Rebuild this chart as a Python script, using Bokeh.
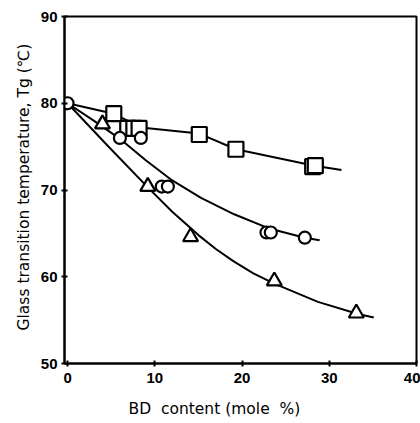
from bokeh.plotting import figure
from bokeh.models import Range1d, FixedTicker, Title
from bokeh.embed import file_html
from bokeh.resources import INLINE

# Data (BD content, mole %; Tg, degC)
sq_x = [5.3, 6.9, 7.6, 8.2, 15.1, 19.3, 28.1, 28.4]
sq_y = [78.8, 77.1, 77.1, 77.1, 76.4, 74.7, 72.7, 72.8]

ci_x = [0.0, 6.0, 8.4, 10.8, 11.5, 22.8, 23.3, 27.2]
ci_y = [80.0, 76.0, 76.0, 70.4, 70.4, 65.1, 65.1, 64.5]

tr_x = [4.0, 9.2, 14.1, 23.7, 33.1]
tr_y = [77.6, 70.4, 64.6, 59.5, 55.8]

# Fitted curves
sq_curve_x = [0.0, 5.3, 8.4, 15.1, 19.3, 28.3, 31.4]
sq_curve_y = [80.0, 78.8, 77.2, 76.5, 74.7, 72.8, 72.3]

ci_curve_x = [0.0, 3.0, 6.0, 9.0, 12.0, 15.3, 19.1, 23.0, 27.2, 28.9]
ci_curve_y = [80.0, 78.0, 75.9, 73.4, 71.1, 69.1, 67.2, 65.6, 64.5, 64.2]

tr_curve_x = [0.0, 4.6, 9.2, 12.0, 15.0, 17.0, 19.0, 21.3, 23.7, 28.7, 33.3, 35.1]
tr_curve_y = [80.0, 75.1, 70.3, 67.5, 64.8, 63.2, 61.8, 60.4, 59.2, 57.1, 55.7, 55.3]

x_ticks = [0, 10, 20, 30, 40]
y_ticks = [50, 60, 70, 80, 90]

x_title = "BD\u00a0 content (mole\u00a0 %)"
y_title = "Glass transition temperature, Tg (\u2103)"

p = figure(width=420, height=423, output_backend="svg", toolbar_location=None,
           x_range=Range1d(-0.35, 40.0), y_range=Range1d(50, 90),
           min_border_left=64, min_border_right=4, min_border_top=16, min_border_bottom=60)

p.outline_line_color = "black"
p.outline_line_width = 2
p.grid.visible = False
p.background_fill_color = "white"
p.border_fill_color = "white"

for ax in (p.xaxis[0], p.yaxis[0]):
    ax.axis_line_color = "black"
    ax.axis_line_width = 2
    ax.major_tick_in = 3
    ax.major_tick_out = 3
    ax.major_tick_line_width = 2
    ax.minor_tick_line_color = None
    ax.major_label_text_font = "Liberation Sans"
    ax.major_label_text_font_style = "bold"
    ax.major_label_text_font_size = "15px"
    ax.major_label_text_color = "black"

p.xaxis.ticker = FixedTicker(ticks=x_ticks)
p.yaxis.ticker = FixedTicker(ticks=y_ticks)
p.xaxis.major_label_standoff = 6
p.yaxis.major_label_standoff = 4
# invisible spacer label to push the title down a little
p.xaxis.axis_label = "\u00a0"
p.xaxis.axis_label_text_font_size = "8px"
p.xaxis.axis_label_standoff = 0

lw = 2
p.line(sq_curve_x, sq_curve_y, line_color="black", line_width=lw)
p.line(ci_curve_x, ci_curve_y, line_color="black", line_width=lw)
p.line(tr_curve_x, tr_curve_y, line_color="black", line_width=lw)

p.scatter(sq_x, sq_y, marker="square", size=15, fill_color="white",
          line_color="black", line_width=2.2)
p.scatter(ci_x, ci_y, marker="circle", size=12, fill_color="white",
          line_color="black", line_width=2.2)
p.scatter(tr_x, tr_y, marker="triangle", size=15, fill_color="white",
          line_color="black", line_width=2.2)

# axis titles placed as in the original (slightly off-centre)
p.add_layout(Title(text=x_title, align="left", offset=64, standoff=4,
                   vertical_align="top",
                   text_font="DejaVu Sans", text_font_size="15.5px",
                   text_font_style="normal", text_color="black"), "below")
p.add_layout(Title(text=y_title, align="left", offset=33, standoff=9,
                   text_font="DejaVu Sans", text_font_size="15.5px",
                   text_font_style="normal", text_color="black"), "left")

open("out.html", "w").write(file_html(p, INLINE))
